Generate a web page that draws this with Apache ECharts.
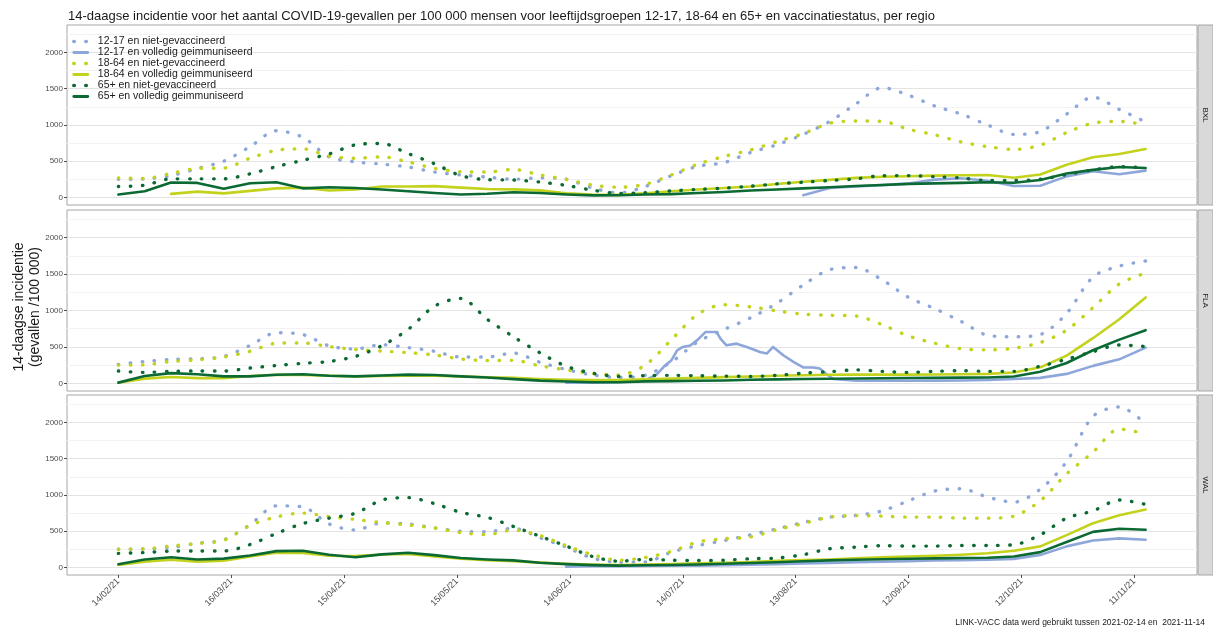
<!DOCTYPE html>
<html>
<head>
<meta charset="utf-8">
<script src="https://cdn.jsdelivr.net/npm/echarts@6/dist/echarts.min.js"></script>
<style>
  html, body { margin: 0; padding: 0; background: #fff; }
  #chart { width: 1213px; height: 630px; }
</style>
</head>
<body>
<div id="chart"></div>
<script>
// dagen sinds 14/02/21 (wekelijkse punten)
const days = [0,7,14,21,28,35,42,49,56,63,70,77,84,91,98,105,112,119,126,133,
  140,147,154,161,168,175,182,189,196,203,210,217,224,231,238,245,252,259,266,273];
const xTickDays = [0,30,60,90,120,150,180,210,240,270];
const yTicks = [0,500,1000,1500,2000];
const yMinorTicks = [250,750,1250,1750,2250];

const regionNames = ['BXL', 'FLA', 'WAL'];
const groupNames = [
  '12-17 en niet-gevaccineerd',
  '12-17 en volledig geimmuniseerd',
  '18-64 en niet-gevaccineerd',
  '18-64 en volledig geimmuniseerd',
  '65+ en niet-gevaccineerd',
  '65+ en volledig geimmuniseerd'
];

// BXL
const bxlNiet1217 = [250,255,300,400,500,700,920,830,560,490,460,420,350,310,280,250,270,250,130,60,
  150,300,430,480,620,726,870,1046,1290,1515,1410,1260,1150,1000,870,909,1150,1384,1215,1040];
const bxlVacc1217 = [null,null,null,null,null,null,null,null,null,null,null,null,null,null,null,null,null,null,null,null,
  null,null,null,null,null,null,30,130,150,170,190,245,265,230,158,160,290,360,320,370];
const bxlNiet1864 = [270,260,330,400,405,540,650,670,570,540,560,490,400,355,350,386,310,250,170,140,
  180,310,460,565,655,770,880,1023,1055,1050,940,863,765,700,662,720,895,1025,1050,1000];
const bxlVacc1864 = [null,null,48,80,55,90,125,135,95,110,150,150,155,135,115,111,97,55,38,35,
  55,85,110,130,150,185,215,242,270,285,292,300,305,310,272,315,450,555,598,667];
const bxlNiet65 = [150,169,256,256,256,325,425,512,600,725,745,605,465,300,245,240,212,165,100,55,
  64,90,110,128,155,187,210,233,255,300,301,285,269,233,233,250,315,379,425,406];
const bxlVacc65 = [39,85,205,200,120,195,210,125,140,130,110,85,60,40,50,70,60,40,28,30,
  40,45,60,75,95,110,125,141,157,171,187,193,200,210,202,240,330,380,420,406];

// FLA
const flaNiet1217 = [260,300,328,337,370,520,695,670,515,472,530,490,440,361,361,415,290,190,115,80,
  110,295,570,740,900,1100,1350,1560,1590,1420,1180,1025,850,660,640,670,960,1459,1610,1680];
// fijnere punten voor de piek in juli
const flaVacc1217Days = [119,126,133,140,143,145,147,148.5,150,152,154,156,159,160,161.6,164.3,167,170.5,172.3,
  174,176.7,179.4,182,184.7,186.4,188,190,196,203,210,217,224,231,238,245,252,259,266,273];
const flaVacc1217 = [10,10,15,40,120,230,318,454,500,520,600,704,704,614,522,545,500,431,409,
  500,386,295,218,218,204,136,60,35,35,35,36,40,45,60,75,130,240,330,490];
const flaNiet1864 = [250,255,300,323,361,440,550,555,505,465,443,422,390,335,313,316,241,185,135,115,
  250,600,950,1080,1050,995,950,935,925,805,650,550,475,460,482,560,730,1040,1365,1514];
const flaVacc1864 = [10,65,87,72,72,100,118,115,105,96,100,106,104,96,84,75,60,50,45,45,
  55,65,75,85,95,105,112,118,120,120,120,122,125,130,150,220,380,620,880,1180];
const flaNiet65 = [169,150,165,169,169,210,245,275,300,370,516,740,1060,1166,880,640,420,235,140,95,
  105,110,105,100,95,110,140,160,185,165,150,165,173,165,165,235,330,435,527,505];
const flaVacc65 = [10,100,140,125,96,96,118,125,105,96,108,120,115,96,80,58,37,26,15,15,
  27,30,35,40,50,55,60,64,66,70,73,75,78,80,95,160,280,455,600,730];

// WAL
const walNiet1217 = [251,255,275,333,380,590,850,835,600,517,614,600,545,500,493,540,410,280,128,72,
  74,211,300,370,450,533,620,694,717,780,920,1055,1085,970,901,1080,1460,2085,2215,1982];
const walVacc1217 = [null,null,null,null,null,null,null,null,null,null,null,null,null,null,null,null,null,10,15,18,
  20,22,25,30,38,45,55,63,70,77,85,95,100,107,118,170,290,372,400,382];
const walNiet1864 = [251,255,295,330,375,580,696,750,700,662,620,585,543,480,454,515,440,300,175,100,
  135,220,350,395,420,520,605,694,715,708,694,694,680,680,708,920,1290,1590,1910,1844];
const walVacc1864 = [35,80,106,80,92,150,203,200,160,155,178,185,150,121,100,85,66,50,40,34,
  40,45,55,65,75,90,100,110,125,140,150,160,175,195,230,290,445,610,720,800];
const walNiet65 = [193,205,225,227,227,315,469,605,680,747,930,963,880,760,690,565,430,295,150,85,
  110,100,95,100,120,129,175,257,280,300,294,294,303,303,313,450,680,780,930,870];
const walVacc65 = [43,110,140,110,121,165,225,230,175,140,180,203,170,130,110,97,65,45,32,25,
  30,33,40,50,60,72,85,97,105,112,120,125,130,133,150,211,350,490,533,520];

const BLUE = '#8ea7da';
const YELLOW = '#c3d21c';
const GREEN = '#0b6a33';

const groups = [
  { color: BLUE, dotted: true },
  { color: BLUE, dotted: false },
  { color: YELLOW, dotted: true },
  { color: YELLOW, dotted: false },
  { color: GREEN, dotted: true },
  { color: GREEN, dotted: false }
];

const dottedStyle = color => ({ color, width: 3.4, type: [0.5, 11.5], cap: 'round' });
const solidStyle = color => ({ color, width: 2.6, type: 'solid', cap: 'round', join: 'round' });

const pairs = (xs, ys) => xs.map((d, i) => [d, ys[i]]);

const regionData = [
  [pairs(days, bxlNiet1217), pairs(days, bxlVacc1217), pairs(days, bxlNiet1864),
   pairs(days, bxlVacc1864), pairs(days, bxlNiet65), pairs(days, bxlVacc65)],
  [pairs(days, flaNiet1217), pairs(flaVacc1217Days, flaVacc1217), pairs(days, flaNiet1864),
   pairs(days, flaVacc1864), pairs(days, flaNiet65), pairs(days, flaVacc65)],
  [pairs(days, walNiet1217), pairs(days, walVacc1217), pairs(days, walNiet1864),
   pairs(days, walVacc1864), pairs(days, walNiet65), pairs(days, walVacc65)]
];

// paneel-indeling
const panels = [
  { top: 25, height: 180 },
  { top: 210, height: 181 },
  { top: 395, height: 180 }
];
const plotLeft = 67;
const plotRight = 16;
const yMin = -105, yMax = 2380;

function dayLabel(d) {
  const dt = new Date(2021, 1, 14 + Math.round(d));
  const dd = String(dt.getDate()).padStart(2, '0');
  const mm = String(dt.getMonth() + 1).padStart(2, '0');
  return dd + '/' + mm + '/' + String(dt.getFullYear()).slice(2);
}

const grid = panels.map(p => ({
  left: plotLeft, right: plotRight, top: p.top, height: p.height,
  show: true, backgroundColor: '#fff', borderColor: '#a6a6a6', borderWidth: 1
}));

const xAxis = panels.map((p, i) => {
  const last = i === panels.length - 1;
  return {
    type: 'value', gridIndex: i, min: -13.65, max: 286.65, position: 'bottom',
    axisLine: { show: false, onZero: false },
    splitLine: { show: false },
    axisTick: { show: last, customValues: xTickDays, length: 3, lineStyle: { color: '#4d4d4d' } },
    axisLabel: {
      show: last, customValues: xTickDays, rotate: 45, margin: 5,
      fontSize: 9, color: '#4d4d4d', formatter: dayLabel
    }
  };
});

const yAxis = [];
panels.forEach((p, i) => {
  yAxis.push({
    type: 'value', gridIndex: i, min: yMin, max: yMax, position: 'left',
    axisLine: { show: false, onZero: false },
    axisTick: { show: true, customValues: yTicks, length: 3, lineStyle: { color: '#4d4d4d' } },
    axisLabel: { customValues: yTicks, fontSize: 8, color: '#4d4d4d', margin: 4, formatter: v => String(v) },
    splitLine: { show: true, lineStyle: { color: '#e3e3e3', width: 1 } }
  });
});
panels.forEach((p, i) => {
  yAxis.push({
    type: 'value', gridIndex: i, min: yMin, max: yMax, position: 'right',
    axisLine: { show: false, onZero: false },
    axisTick: { show: false, customValues: yMinorTicks },
    axisLabel: { show: false },
    splitLine: { show: true, lineStyle: { color: '#f2f2f2', width: 1 } }
  });
});

const series = [];
regionData.forEach((rows, r) => {
  rows.forEach((data, g) => {
    const grp = groups[g];
    series.push({
      type: 'line',
      name: groupNames[g],
      xAxisIndex: r,
      yAxisIndex: r,
      data: data,
      symbol: 'none',
      smooth: grp.dotted ? 0.3 : false,
      connectNulls: false,
      lineStyle: grp.dotted ? dottedStyle(grp.color) : solidStyle(grp.color),
      itemStyle: { color: grp.color },
      emphasis: { disabled: true }
    });
  });
});

// legenda-items met dezelfde lijnstijl
const legendData = groupNames.map((name, g) => ({
  name,
  lineStyle: groups[g].dotted
    ? { width: 3.6, type: [0.5, 11.5], cap: 'round' }
    : { width: 2.8, type: 'solid' }
}));

// strookjes met regionaam rechts van elk paneel
const graphics = [];
panels.forEach((p, i) => {
  graphics.push({
    type: 'rect',
    shape: { x: 1198, y: p.top, width: 15, height: p.height },
    style: { fill: '#d9d9d9', stroke: '#a6a6a6', lineWidth: 1 }
  });
  graphics.push({
    type: 'text',
    x: 1205.5, y: p.top + p.height / 2,
    rotation: -Math.PI / 2,
    style: {
      text: regionNames[i], fill: '#1a1a1a', font: '8px "Liberation Sans"',
      align: 'center', verticalAlign: 'middle'
    }
  });
});
graphics.push({
  type: 'text',
  x: 27, y: 307,
  rotation: Math.PI / 2,
  style: {
    text: '14-daagse incidentie\n(gevallen /100 000)', fill: '#1a1a1a',
    font: '14px "Liberation Sans"', lineHeight: 16,
    align: 'center', verticalAlign: 'middle'
  }
});
graphics.push({
  type: 'text',
  x: 1205, y: 623,
  style: {
    text: 'LINK-VACC data werd gebruikt tussen 2021-02-14 en  2021-11-14', fill: '#1a1a1a',
    font: '8.5px "Liberation Sans"', align: 'right', verticalAlign: 'middle'
  }
});

const chart = echarts.init(document.getElementById('chart'));
chart.setOption({
  animation: false,
  backgroundColor: '#fff',
  textStyle: { fontFamily: '"Liberation Sans", Arial, sans-serif' },
  title: {
    text: '14-daagse incidentie voor het aantal COVID-19-gevallen per 100 000 mensen voor leeftijdsgroepen 12-17, 18-64 en 65+ en vaccinatiestatus, per regio',
    left: 63, top: 5,
    textStyle: { fontSize: 13, fontWeight: 'normal', color: '#1a1a1a' }
  },
  legend: {
    data: legendData,
    orient: 'vertical',
    left: 72, top: 36,
    padding: 0,
    itemWidth: 14, itemHeight: 8, itemGap: 0,
    itemStyle: { opacity: 0, borderWidth: 0 },
    textStyle: { fontSize: 10.5, color: '#1a1a1a', lineHeight: 10.6, padding: [0, 0, 0, 5] }
  },
  grid: grid,
  xAxis: xAxis,
  yAxis: yAxis,
  series: series,
  graphic: graphics
});
window.addEventListener('resize', () => chart.resize());
</script>
</body>
</html>
